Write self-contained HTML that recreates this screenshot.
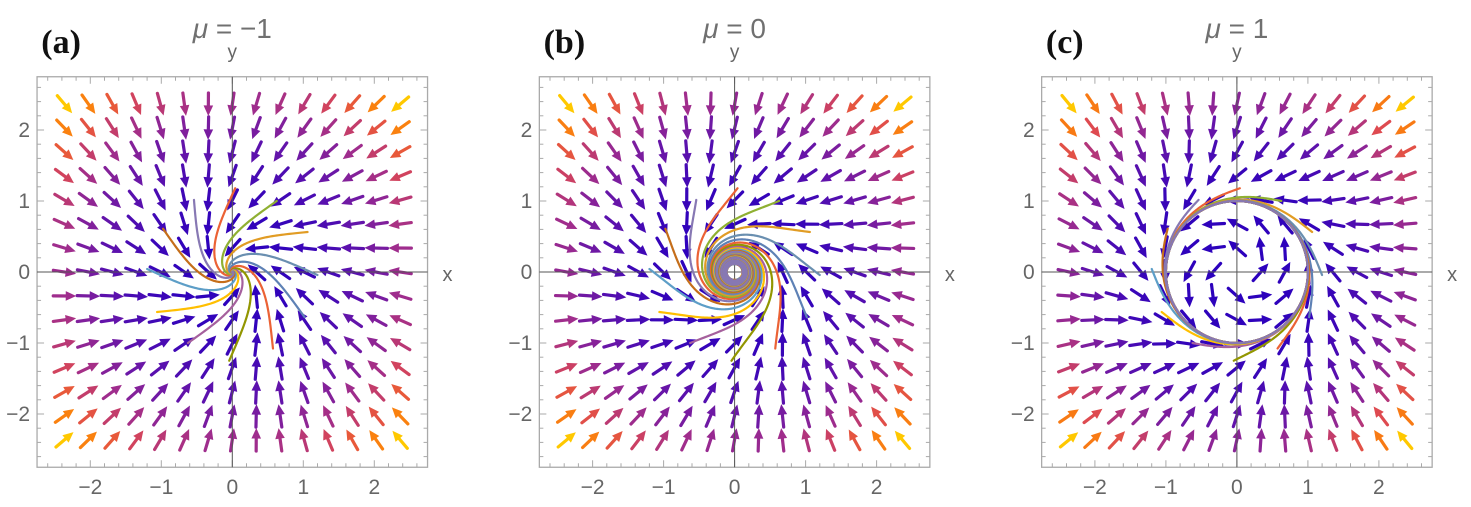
<!DOCTYPE html>
<html><head><meta charset="utf-8"><style>
html,body{margin:0;padding:0;background:#fff;}
svg{display:block;font-family:"Liberation Sans",sans-serif;}
</style></head><body>
<svg id="chart" width="1471" height="507" viewBox="0 0 1471 507" xmlns="http://www.w3.org/2000/svg"></svg>
<script>
// ---- data ----
const mus = [-1, 0, 1];
const panelLabels = ['(a)', '(b)', '(c)'];
const titleValues = ['\u22121', '0', '1'];
const tickValues = [-2, -1, 0, 1, 2];
const tickLabels = ['\u22122', '\u22121', '0', '1', '2'];
const seedAngles = [88, 58, 28, -2, -32, -62, -92, -122, -152, 178, 148, 118];
const seedRadii = [1.18, 1.18, 1.2, 1.2, 1.2, 1.22, 1.25, 1.18, 1.2, 1.2, 1.15, 1.15];
const seedColors = ['#eb6235', '#8fb032', '#e19c24', '#6a8fb0', '#5e81b5', '#eb6235', '#929600', '#a5609d', '#ffbf00', '#5d9ec7', '#c56e1a', '#8778b3'];
const integrationTimes = [6, 40, 20];
const gridCount = 15;
const gridExtent = 2.36;

// ---- layout ----
const NS = 'http://www.w3.org/2000/svg';
const svg = document.getElementById('chart');
const S = 71, CY = 272, R = 2.75;
function mk(tag, attrs, parent) {
  const e = document.createElementNS(NS, tag);
  for (const k in attrs) e.setAttribute(k, attrs[k]);
  (parent || svg).appendChild(e);
  return e;
}
function field(mu, x, y) {
  const r2 = x * x + y * y;
  return [mu * x - y - x * r2, x + mu * y - y * r2];
}
const cstops = [[0, [40, 0, 190]], [0.2, [100, 20, 170]], [0.4, [160, 45, 140]], [0.6, [220, 72, 84]], [0.75, [244, 106, 32]], [0.88, [255, 150, 0]], [1, [255, 200, 0]]];
function cmap(t) {
  t = Math.max(0, Math.min(1, t));
  for (let i = 1; i < cstops.length; i++) {
    if (t <= cstops[i][0]) {
      const a = cstops[i - 1], b = cstops[i];
      const f = (t - a[0]) / (b[0] - a[0]);
      const c = a[1].map((v, j) => Math.round(v + (b[1][j] - v) * f));
      return 'rgb(' + c.join(',') + ')';
    }
  }
  return 'rgb(255,200,0)';
}

mus.forEach((mu, p) => {
  const cx = 232.3 + p * 502.3;
  const X = v => cx + v * S, Y = v => CY - v * S;
  const g = mk('g', {});
  
  

  const pl = mk('text', {x: cx - 191, y: 53, 'font-family': '"Liberation Serif",serif', 'font-weight': 'bold', 'font-size': 34, fill: '#111'}, g);
  pl.textContent = panelLabels[p];
  
  
  const tt = mk('text', {x: cx, y: 38, 'text-anchor': 'middle', 'font-size': 28, fill: '#707070'}, g);
  tt.innerHTML = '<tspan font-style="italic">\u03bc</tspan> = ' + titleValues[p];
  
  
  const yl = mk('text', {x: cx, y: 58, 'text-anchor': 'middle', 'font-size': 19, fill: '#666'}, g);
  yl.textContent = 'y';
  
  
  const xl = mk('text', {x: X(R) + 20, y: CY + 9, 'text-anchor': 'middle', 'font-size': 20, fill: '#666'}, g);
  xl.textContent = 'x';
  
  

  const fr = mk('rect', {x: X(-R), y: Y(R), width: 2 * R * S, height: 2 * R * S, fill: 'none', stroke: '#aaa', 'stroke-width': 1.3}, g);
  
  
  for (let k = -13; k <= 13; k++) {
    const v = k * 0.2;
    const major = k % 5 === 0;
    const L = major ? 7 : 4;
    const tx = X(v), ty = Y(v);
    mk('line', {x1: tx, y1: Y(-R), x2: tx, y2: Y(-R) - L, stroke: '#aaa', 'stroke-width': 1}, g);
    mk('line', {x1: tx, y1: Y(R), x2: tx, y2: Y(R) + L, stroke: '#aaa', 'stroke-width': 1}, g);
    mk('line', {x1: X(-R), y1: ty, x2: X(-R) + L, y2: ty, stroke: '#aaa', 'stroke-width': 1}, g);
    mk('line', {x1: X(R), y1: ty, x2: X(R) - L, y2: ty, stroke: '#aaa', 'stroke-width': 1}, g);
  }
  tickValues.forEach((v, i) => {
    const a = mk('text', {x: X(v), y: 494, 'text-anchor': 'middle', 'font-size': 21, fill: '#666'}, g);
    a.textContent = tickLabels[i];
    
    
    const b = mk('text', {x: X(-R) - 7, y: Y(v) + 7, 'text-anchor': 'end', 'font-size': 21, fill: '#666'}, g);
    b.textContent = tickLabels[i];
    
    
  });

  const pts = [];
  let mn = Infinity, mx = -Infinity;
  for (let i = 0; i < gridCount; i++) for (let j = 0; j < gridCount; j++) {
    const x = -gridExtent + 2 * gridExtent * i / (gridCount - 1);
    const y = -gridExtent + 2 * gridExtent * j / (gridCount - 1);
    const [u, v] = field(mu, x, y);
    const m = Math.hypot(u, v);
    mn = Math.min(mn, m); mx = Math.max(mx, m);
    pts.push([x, y, u, v, m]);
  }
  const ag = mk('g', {}, g);
  
  
  pts.forEach(([x, y, u, v, m]) => {
    if (m < 1e-9) return;
    const dx = u / m, dy = -v / m;
    const c = cmap((m - mn) / (mx - mn));
    const L = 23, sx = X(x), sy = Y(y);
    const x0 = sx - dx * L / 2, y0 = sy - dy * L / 2, x1 = sx + dx * L / 2, y1 = sy + dy * L / 2;
    const a = mk('g', {}, ag);
    
    
    mk('line', {x1: x0, y1: y0, x2: x1 - dx * 7, y2: y1 - dy * 7, stroke: c, 'stroke-width': 3.2, 'stroke-linecap': 'round'}, a);
    const bx = x1 - dx * 10.5, by = y1 - dy * 10.5;
    mk('polygon', {points: `${x1},${y1} ${bx - dy * 4.8},${by + dx * 4.8} ${bx + dy * 4.8},${by - dx * 4.8}`, fill: c}, a);
  });

  mk('line', {x1: X(-R), y1: CY, x2: X(R), y2: CY, stroke: '#555', 'stroke-width': 1}, g);
  mk('line', {x1: cx, y1: Y(R), x2: cx, y2: Y(-R), stroke: '#555', 'stroke-width': 1}, g);

  const sg = mk('g', {}, g);
  
  
  const dt = 0.01;
  seedAngles.forEach((ang, k) => {
    let x = seedRadii[k] * Math.cos(ang * Math.PI / 180), y = seedRadii[k] * Math.sin(ang * Math.PI / 180);
    const n = Math.round(integrationTimes[p] / dt);
    let d = 'M' + X(x).toFixed(2) + ' ' + Y(y).toFixed(2);
    for (let s = 0; s < n; s++) {
      const k1 = field(mu, x, y);
      const k2 = field(mu, x + k1[0] * dt / 2, y + k1[1] * dt / 2);
      const k3 = field(mu, x + k2[0] * dt / 2, y + k2[1] * dt / 2);
      const k4 = field(mu, x + k3[0] * dt, y + k3[1] * dt);
      x += dt / 6 * (k1[0] + 2 * k2[0] + 2 * k3[0] + k4[0]);
      y += dt / 6 * (k1[1] + 2 * k2[1] + 2 * k3[1] + k4[1]);
      if (s % 2 === 1) d += 'L' + X(x).toFixed(2) + ' ' + Y(y).toFixed(2);
    }
    const pth = mk('path', {d: d, fill: 'none', stroke: seedColors[k], 'stroke-width': 2.2, 'stroke-linecap': 'round', 'stroke-linejoin': 'round'}, sg);
    
    
  });
});
</script>
</body></html>
